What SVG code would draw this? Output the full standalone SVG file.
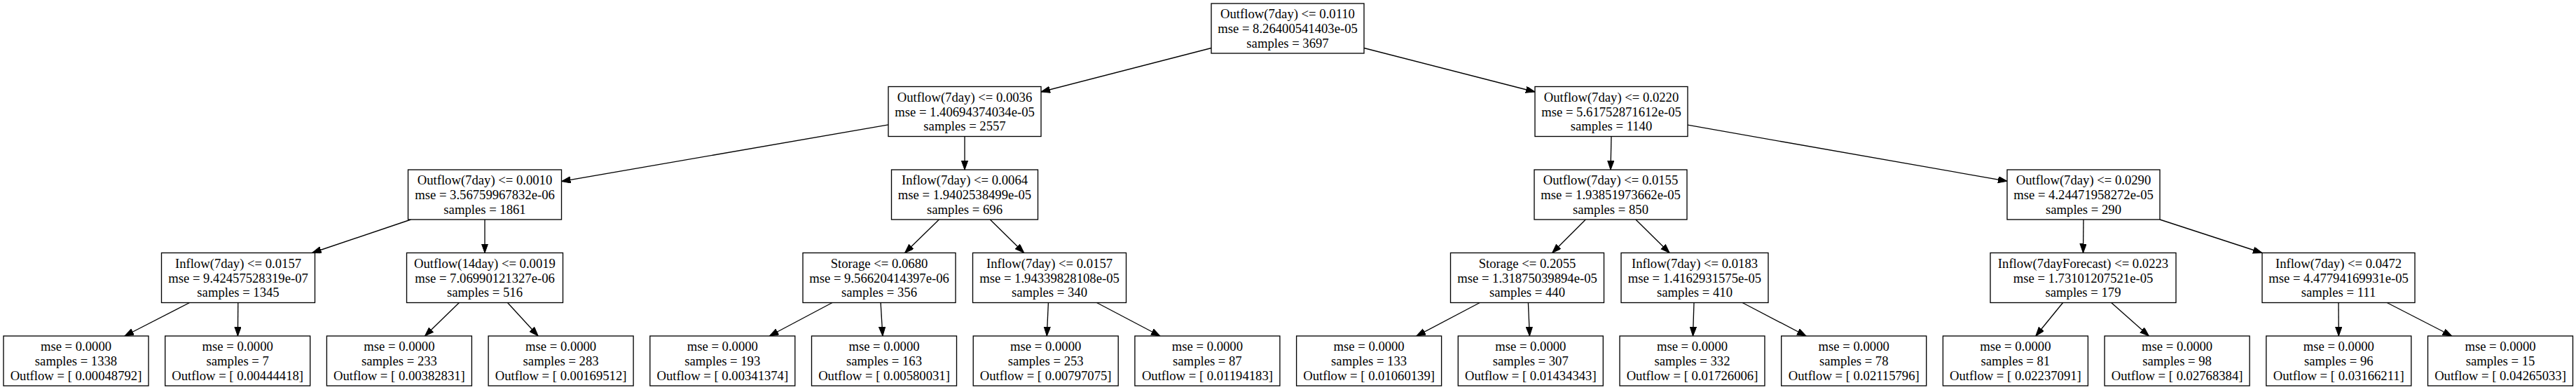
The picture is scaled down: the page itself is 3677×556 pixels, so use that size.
<svg xmlns="http://www.w3.org/2000/svg" width="3677" height="556" viewBox="0 0 3677 556">
<style>
.box{fill:#fff;stroke:#000;stroke-width:1.33}
.t{font-family:"Liberation Serif","Times New Roman",serif;font-size:18.67px;text-anchor:middle;fill:#000}
.e{stroke:#000;stroke-width:1.33;fill:none;marker-end:url(#ah)}
</style>
<defs>
<marker id="ah" markerUnits="userSpaceOnUse" markerWidth="14" markerHeight="10" refX="13" refY="4.65" orient="auto">
<path d="M0,0 L13,4.65 L0,9.3 z" fill="#000" stroke="#000" stroke-width="1"/>
</marker>
</defs>
<rect width="3677" height="556" fill="#fff"/>
<g id="connectors">
<line class="e" x1="1729" y1="68.5" x2="1486" y2="131"/>
<line class="e" x1="1947" y1="68.5" x2="2191" y2="131"/>
<line class="e" x1="1268" y1="177.9" x2="801.5" y2="258.6"/>
<line class="e" x1="1377" y1="194.5" x2="1377" y2="242"/>
<line class="e" x1="2300" y1="194.5" x2="2299" y2="242"/>
<line class="e" x1="2409" y1="178.2" x2="2865" y2="258.3"/>
<line class="e" x1="586.5" y1="313" x2="445.5" y2="360.5"/>
<line class="e" x1="692" y1="313" x2="692" y2="360.5"/>
<line class="e" x1="1340.4" y1="313" x2="1291.6" y2="360.5"/>
<line class="e" x1="1413.3" y1="313" x2="1461.7" y2="360.5"/>
<line class="e" x1="2263.3" y1="313" x2="2215.7" y2="360.5"/>
<line class="e" x1="2334.9" y1="313" x2="2383.1" y2="360.5"/>
<line class="e" x1="2974" y1="313" x2="2973.5" y2="360.5"/>
<line class="e" x1="3083" y1="313" x2="3229" y2="360.5"/>
<line class="e" x1="270.6" y1="431.5" x2="177.9" y2="479"/>
<line class="e" x1="339.8" y1="431.5" x2="339.4" y2="479"/>
<line class="e" x1="655.4" y1="431.5" x2="606.5" y2="479"/>
<line class="e" x1="724.5" y1="431.5" x2="768.1" y2="479"/>
<line class="e" x1="1188" y1="431.5" x2="1098.3" y2="479"/>
<line class="e" x1="1257.1" y1="431.5" x2="1259.9" y2="479"/>
<line class="e" x1="1496.4" y1="431.5" x2="1494.3" y2="479"/>
<line class="e" x1="1565.5" y1="431.5" x2="1655.9" y2="479"/>
<line class="e" x1="2112.3" y1="431.5" x2="2021.8" y2="479"/>
<line class="e" x1="2181.4" y1="431.5" x2="2183.4" y2="479"/>
<line class="e" x1="2418" y1="431.5" x2="2416.5" y2="479"/>
<line class="e" x1="2487.1" y1="431.5" x2="2578.1" y2="479"/>
<line class="e" x1="2944.6" y1="431.5" x2="2905.8" y2="479"/>
<line class="e" x1="3013.7" y1="431.5" x2="3067.4" y2="479"/>
<line class="e" x1="3338" y1="431.5" x2="3338.3" y2="479"/>
<line class="e" x1="3407.2" y1="431.5" x2="3499.8" y2="479"/>
</g>
<g id="n0"><rect class="box" x="1729" y="5" width="218" height="71"/><text class="t"><tspan x="1838" y="26">Outflow(7day) &lt;= 0.0110</tspan><tspan x="1838" y="47">mse = 8.26400541403e-05</tspan><tspan x="1838" y="67.5">samples = 3697</tspan></text></g>
<g id="n1"><rect class="box" x="1268" y="123.5" width="218" height="71"/><text class="t"><tspan x="1377" y="144.5">Outflow(7day) &lt;= 0.0036</tspan><tspan x="1377" y="165.5">mse = 1.40694374034e-05</tspan><tspan x="1377" y="186">samples = 2557</tspan></text></g>
<g id="n2"><rect class="box" x="2191" y="123.5" width="218" height="71"/><text class="t"><tspan x="2300" y="144.5">Outflow(7day) &lt;= 0.0220</tspan><tspan x="2300" y="165.5">mse = 5.61752871612e-05</tspan><tspan x="2300" y="186">samples = 1140</tspan></text></g>
<g id="n3"><rect class="box" x="582.5" y="242" width="219" height="71"/><text class="t"><tspan x="692" y="263">Outflow(7day) &lt;= 0.0010</tspan><tspan x="692" y="284">mse = 3.56759967832e-06</tspan><tspan x="692" y="304.5">samples = 1861</tspan></text></g>
<g id="n4"><rect class="box" x="1272.5" y="242" width="209" height="71"/><text class="t"><tspan x="1377" y="263">Inflow(7day) &lt;= 0.0064</tspan><tspan x="1377" y="284">mse = 1.9402538499e-05</tspan><tspan x="1377" y="304.5">samples = 696</tspan></text></g>
<g id="n5"><rect class="box" x="2190" y="242" width="218" height="71"/><text class="t"><tspan x="2299" y="263">Outflow(7day) &lt;= 0.0155</tspan><tspan x="2299" y="284">mse = 1.93851973662e-05</tspan><tspan x="2299" y="304.5">samples = 850</tspan></text></g>
<g id="n6"><rect class="box" x="2865" y="242" width="218" height="71"/><text class="t"><tspan x="2974" y="263">Outflow(7day) &lt;= 0.0290</tspan><tspan x="2974" y="284">mse = 4.24471958272e-05</tspan><tspan x="2974" y="304.5">samples = 290</tspan></text></g>
<g id="n7"><rect class="box" x="230.5" y="360.5" width="219" height="71"/><text class="t"><tspan x="340" y="381.5">Inflow(7day) &lt;= 0.0157</tspan><tspan x="340" y="402.5">mse = 9.42457528319e-07</tspan><tspan x="340" y="423">samples = 1345</tspan></text></g>
<g id="n8"><rect class="box" x="580.5" y="360.5" width="223" height="71"/><text class="t"><tspan x="692" y="381.5">Outflow(14day) &lt;= 0.0019</tspan><tspan x="692" y="402.5">mse = 7.06990121327e-06</tspan><tspan x="692" y="423">samples = 516</tspan></text></g>
<g id="n9"><rect class="box" x="1146" y="360.5" width="218" height="71"/><text class="t"><tspan x="1255" y="381.5">Storage &lt;= 0.0680</tspan><tspan x="1255" y="402.5">mse = 9.56620414397e-06</tspan><tspan x="1255" y="423">samples = 356</tspan></text></g>
<g id="n10"><rect class="box" x="1388.5" y="360.5" width="219" height="71"/><text class="t"><tspan x="1498" y="381.5">Inflow(7day) &lt;= 0.0157</tspan><tspan x="1498" y="402.5">mse = 1.94339828108e-05</tspan><tspan x="1498" y="423">samples = 340</tspan></text></g>
<g id="n11"><rect class="box" x="2070.5" y="360.5" width="219" height="71"/><text class="t"><tspan x="2180" y="381.5">Storage &lt;= 0.2055</tspan><tspan x="2180" y="402.5">mse = 1.31875039894e-05</tspan><tspan x="2180" y="423">samples = 440</tspan></text></g>
<g id="n12"><rect class="box" x="2314" y="360.5" width="210" height="71"/><text class="t"><tspan x="2419" y="381.5">Inflow(7day) &lt;= 0.0183</tspan><tspan x="2419" y="402.5">mse = 1.4162931575e-05</tspan><tspan x="2419" y="423">samples = 410</tspan></text></g>
<g id="n13"><rect class="box" x="2841" y="360.5" width="265" height="71"/><text class="t"><tspan x="2973.5" y="381.5">Inflow(7dayForecast) &lt;= 0.0223</tspan><tspan x="2973.5" y="402.5">mse = 1.73101207521e-05</tspan><tspan x="2973.5" y="423">samples = 179</tspan></text></g>
<g id="n14"><rect class="box" x="3229" y="360.5" width="218" height="71"/><text class="t"><tspan x="3338" y="381.5">Inflow(7day) &lt;= 0.0472</tspan><tspan x="3338" y="402.5">mse = 4.47794169931e-05</tspan><tspan x="3338" y="423">samples = 111</tspan></text></g>
<g id="l0"><rect class="box" x="5" y="479" width="207" height="71"/><text class="t"><tspan x="108.5" y="500">mse = 0.0000</tspan><tspan x="108.5" y="521">samples = 1338</tspan><tspan x="108.5" y="541.5">Outflow = [ 0.00048792]</tspan></text></g>
<g id="l1"><rect class="box" x="235.7" y="479" width="207" height="71"/><text class="t"><tspan x="339.2" y="500">mse = 0.0000</tspan><tspan x="339.2" y="521">samples = 7</tspan><tspan x="339.2" y="541.5">Outflow = [ 0.00444418]</tspan></text></g>
<g id="l2"><rect class="box" x="466.4" y="479" width="207" height="71"/><text class="t"><tspan x="569.9" y="500">mse = 0.0000</tspan><tspan x="569.9" y="521">samples = 233</tspan><tspan x="569.9" y="541.5">Outflow = [ 0.00382831]</tspan></text></g>
<g id="l3"><rect class="box" x="697.1" y="479" width="207" height="71"/><text class="t"><tspan x="800.6" y="500">mse = 0.0000</tspan><tspan x="800.6" y="521">samples = 283</tspan><tspan x="800.6" y="541.5">Outflow = [ 0.00169512]</tspan></text></g>
<g id="l4"><rect class="box" x="927.8" y="479" width="207" height="71"/><text class="t"><tspan x="1031.3" y="500">mse = 0.0000</tspan><tspan x="1031.3" y="521">samples = 193</tspan><tspan x="1031.3" y="541.5">Outflow = [ 0.00341374]</tspan></text></g>
<g id="l5"><rect class="box" x="1158.5" y="479" width="207" height="71"/><text class="t"><tspan x="1262" y="500">mse = 0.0000</tspan><tspan x="1262" y="521">samples = 163</tspan><tspan x="1262" y="541.5">Outflow = [ 0.00580031]</tspan></text></g>
<g id="l6"><rect class="box" x="1389.2" y="479" width="207" height="71"/><text class="t"><tspan x="1492.7" y="500">mse = 0.0000</tspan><tspan x="1492.7" y="521">samples = 253</tspan><tspan x="1492.7" y="541.5">Outflow = [ 0.00797075]</tspan></text></g>
<g id="l7"><rect class="box" x="1619.9" y="479" width="207" height="71"/><text class="t"><tspan x="1723.4" y="500">mse = 0.0000</tspan><tspan x="1723.4" y="521">samples = 87</tspan><tspan x="1723.4" y="541.5">Outflow = [ 0.01194183]</tspan></text></g>
<g id="l8"><rect class="box" x="1850.6" y="479" width="207" height="71"/><text class="t"><tspan x="1954.1" y="500">mse = 0.0000</tspan><tspan x="1954.1" y="521">samples = 133</tspan><tspan x="1954.1" y="541.5">Outflow = [ 0.01060139]</tspan></text></g>
<g id="l9"><rect class="box" x="2081.3" y="479" width="207" height="71"/><text class="t"><tspan x="2184.8" y="500">mse = 0.0000</tspan><tspan x="2184.8" y="521">samples = 307</tspan><tspan x="2184.8" y="541.5">Outflow = [ 0.01434343]</tspan></text></g>
<g id="l10"><rect class="box" x="2312" y="479" width="207" height="71"/><text class="t"><tspan x="2415.5" y="500">mse = 0.0000</tspan><tspan x="2415.5" y="521">samples = 332</tspan><tspan x="2415.5" y="541.5">Outflow = [ 0.01726006]</tspan></text></g>
<g id="l11"><rect class="box" x="2542.7" y="479" width="207" height="71"/><text class="t"><tspan x="2646.2" y="500">mse = 0.0000</tspan><tspan x="2646.2" y="521">samples = 78</tspan><tspan x="2646.2" y="541.5">Outflow = [ 0.02115796]</tspan></text></g>
<g id="l12"><rect class="box" x="2773.4" y="479" width="207" height="71"/><text class="t"><tspan x="2876.9" y="500">mse = 0.0000</tspan><tspan x="2876.9" y="521">samples = 81</tspan><tspan x="2876.9" y="541.5">Outflow = [ 0.02237091]</tspan></text></g>
<g id="l13"><rect class="box" x="3004.1" y="479" width="207" height="71"/><text class="t"><tspan x="3107.6" y="500">mse = 0.0000</tspan><tspan x="3107.6" y="521">samples = 98</tspan><tspan x="3107.6" y="541.5">Outflow = [ 0.02768384]</tspan></text></g>
<g id="l14"><rect class="box" x="3234.8" y="479" width="207" height="71"/><text class="t"><tspan x="3338.3" y="500">mse = 0.0000</tspan><tspan x="3338.3" y="521">samples = 96</tspan><tspan x="3338.3" y="541.5">Outflow = [ 0.03166211]</tspan></text></g>
<g id="l15"><rect class="box" x="3465.5" y="479" width="207" height="71"/><text class="t"><tspan x="3569" y="500">mse = 0.0000</tspan><tspan x="3569" y="521">samples = 15</tspan><tspan x="3569" y="541.5">Outflow = [ 0.04265033]</tspan></text></g>
</svg>
